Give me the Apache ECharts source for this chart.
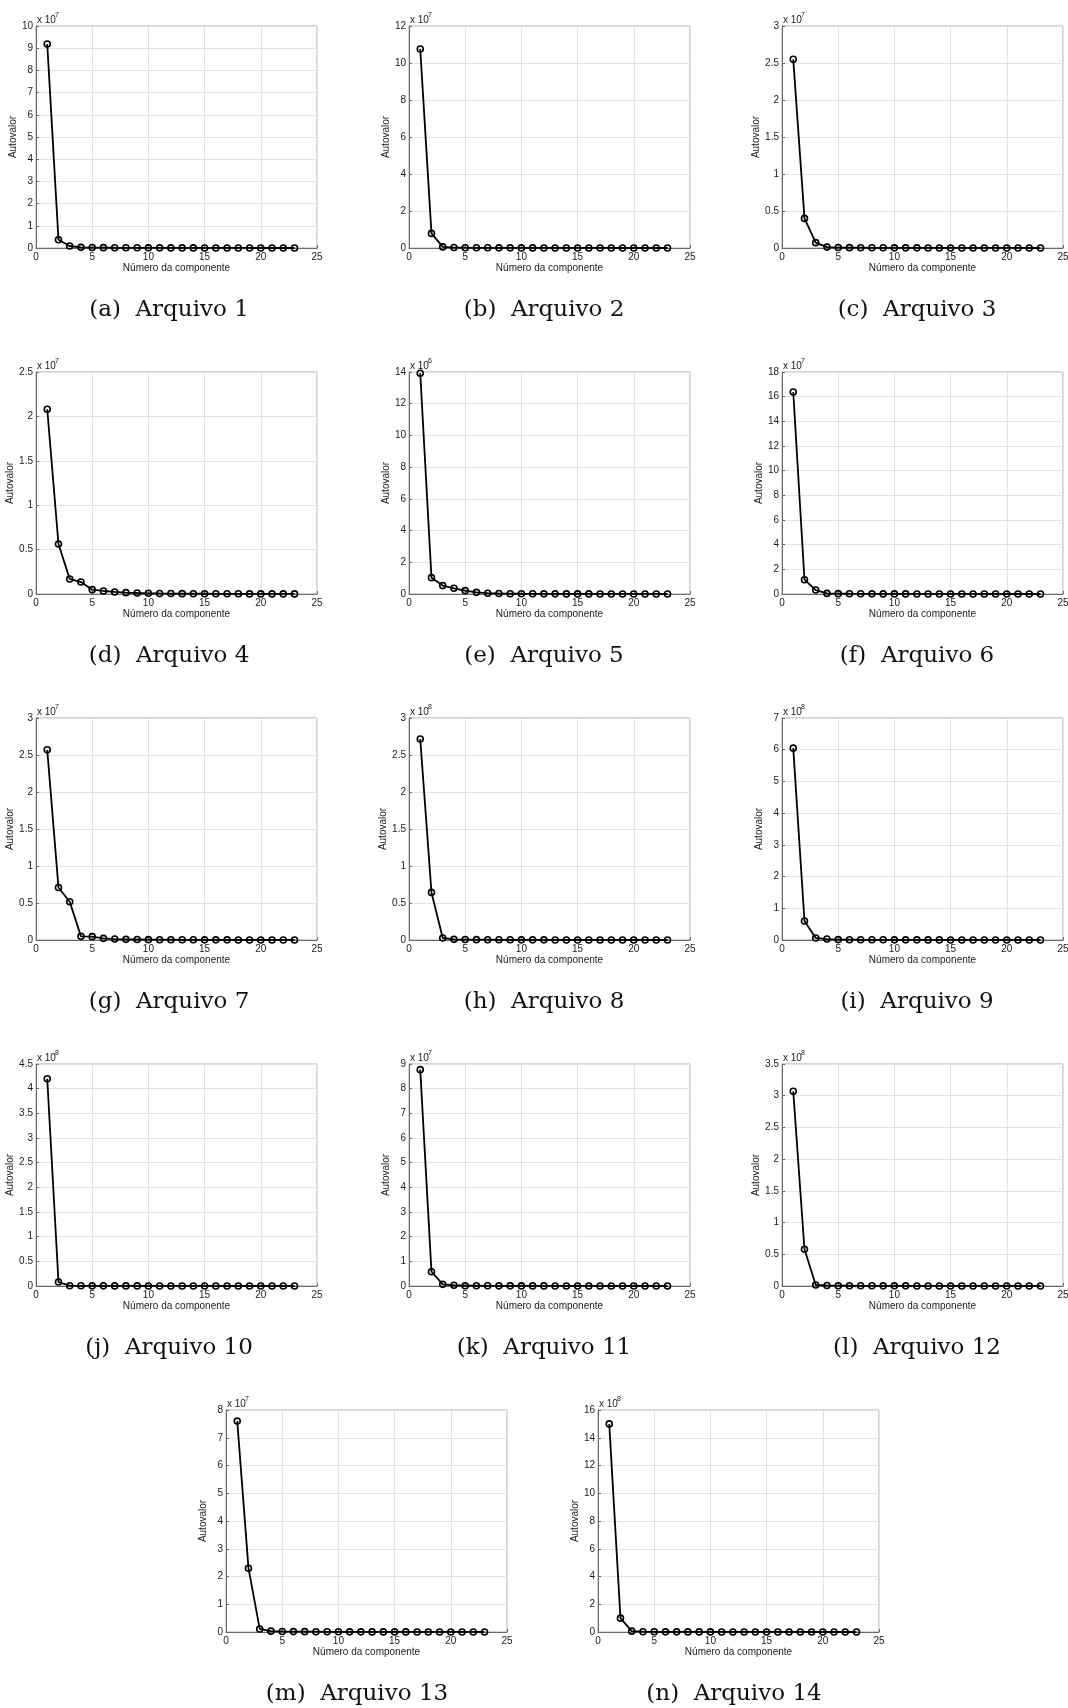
<!DOCTYPE html>
<html>
<head>
<meta charset="utf-8">
<script src="https://cdn.jsdelivr.net/npm/echarts@6/dist/echarts.min.js"></script>
<style>
html,body{margin:0;padding:0;background:#fff;}
#chart{width:1068px;height:1708px;}
</style>
</head>
<body>
<div id="chart"></div>
<script>
// Component numbers (x axis)
const componentes = [1,2,3,4,5,6,7,8,9,10,11,12,13,14,15,16,17,18,19,20,21,22,23];

const arquivo1  = [9.19,0.37,0.09,0.03,0.02,0.015,0.012,0.01,0.008,0.007,0.006,0.005,0.004,0.004,0.003,0.003,0.002,0.002,0.002,0.001,0.001,0.001,0.001];
const arquivo2  = [10.76,0.79,0.06,0.025,0.015,0.012,0.01,0.008,0.007,0.006,0.005,0.004,0.004,0.003,0.003,0.002,0.002,0.002,0.001,0.001,0.001,0.001,0.001];
const arquivo3  = [2.55,0.40,0.072,0.012,0.006,0.005,0.004,0.003,0.003,0.002,0.002,0.002,0.001,0.001,0.001,0.001,0.001,0.001,0.0005,0.0005,0.0005,0.0003,0.0002];
const arquivo4  = [2.08,0.563,0.169,0.135,0.049,0.034,0.023,0.015,0.011,0.008,0.006,0.005,0.004,0.003,0.003,0.002,0.002,0.002,0.001,0.001,0.001,0.001,0.001];
const arquivo5  = [13.92,1.03,0.53,0.36,0.21,0.105,0.05,0.03,0.02,0.015,0.012,0.01,0.008,0.007,0.006,0.005,0.004,0.004,0.003,0.003,0.002,0.002,0.001];
const arquivo6  = [16.38,1.16,0.32,0.05,0.03,0.02,0.015,0.012,0.01,0.008,0.007,0.006,0.005,0.004,0.004,0.003,0.003,0.002,0.002,0.002,0.001,0.001,0.001];
const arquivo7  = [2.57,0.71,0.517,0.049,0.045,0.022,0.013,0.009,0.007,0.005,0.004,0.004,0.003,0.003,0.002,0.002,0.002,0.001,0.001,0.001,0.001,0.001,0.0005];
const arquivo8  = [2.717,0.643,0.027,0.009,0.006,0.005,0.004,0.003,0.003,0.002,0.002,0.002,0.001,0.001,0.001,0.001,0.001,0.001,0.0005,0.0005,0.0005,0.0003,0.0002];
const arquivo9  = [6.05,0.60,0.063,0.03,0.012,0.01,0.008,0.007,0.006,0.005,0.004,0.004,0.003,0.003,0.002,0.002,0.002,0.001,0.001,0.001,0.001,0.001,0.001];
const arquivo10 = [4.2,0.08,0.006,0.004,0.003,0.003,0.002,0.002,0.002,0.001,0.001,0.001,0.001,0.001,0.001,0.0005,0.0005,0.0005,0.0005,0.0003,0.0003,0.0002,0.0002];
const arquivo11 = [8.77,0.58,0.067,0.03,0.012,0.01,0.008,0.007,0.006,0.005,0.004,0.004,0.003,0.003,0.002,0.002,0.002,0.001,0.001,0.001,0.001,0.001,0.001];
const arquivo12 = [3.07,0.58,0.016,0.008,0.005,0.004,0.003,0.003,0.002,0.002,0.002,0.001,0.001,0.001,0.001,0.001,0.001,0.0005,0.0005,0.0005,0.0003,0.0003,0.0002];
const arquivo13 = [7.6,2.3,0.11,0.03,0.02,0.015,0.012,0.01,0.008,0.007,0.006,0.005,0.004,0.004,0.003,0.003,0.002,0.002,0.002,0.001,0.001,0.001,0.001];
const arquivo14 = [15.0,1.0,0.06,0.02,0.015,0.012,0.01,0.008,0.007,0.006,0.005,0.004,0.004,0.003,0.003,0.002,0.002,0.002,0.001,0.001,0.001,0.001,0.001];

const series = [arquivo1,arquivo2,arquivo3,arquivo4,arquivo5,arquivo6,arquivo7,arquivo8,arquivo9,arquivo10,arquivo11,arquivo12,arquivo13,arquivo14];
const captions = ['(a)  Arquivo 1','(b)  Arquivo 2','(c)  Arquivo 3','(d)  Arquivo 4','(e)  Arquivo 5','(f)  Arquivo 6','(g)  Arquivo 7','(h)  Arquivo 8','(i)  Arquivo 9','(j)  Arquivo 10','(k)  Arquivo 11','(l)  Arquivo 12','(m)  Arquivo 13','(n)  Arquivo 14'];
const exponents = [7,7,7,7,6,7,7,8,8,8,7,8,7,8];
const yMax      = [10,12,3,2.5,14,18,3,3,7,4.5,9,3.5,8,16];
const yStep     = [1,2,0.5,0.5,2,2,0.5,0.5,1,0.5,1,0.5,1,2];
const xMax = 25, xStep = 5;
const xName = 'Número da componente';
const yName = 'Autovalor';

// ---- layout (pixels) ----
const colLeft = [36, 409, 782];
const rowTop = [26, 372, 718, 1064, 1410];
const lastRowLeft = [226, 598];
const W = 281, H = 222;
const capDy = 284;
const capX3 = [169, 544, 917];
const capXLast = [357, 734];

const grids = [], xAxes = [], yAxes = [], ser = [], graphics = [];
const tickFont = {fontFamily: 'Liberation Sans, Arial, sans-serif', fontSize: 10, color: '#1a1a1a'};

for (let i = 0; i < 14; i++) {
  let left, top, capX;
  if (i < 12) { const r = Math.floor(i / 3), c = i % 3; left = colLeft[c]; top = rowTop[r]; capX = capX3[c]; }
  else { left = lastRowLeft[i - 12]; top = rowTop[4]; capX = capXLast[i - 12]; }
  grids.push({left: left, top: top, width: W, height: H, containLabel: false, outerBoundsMode: 'none',
    show: true, borderColor: '#a8a8a8', borderWidth: 1, backgroundColor: '#fff'});
  xAxes.push({type: 'value', gridIndex: i, min: 0, max: xMax, interval: xStep,
    name: xName, nameLocation: 'middle', nameGap: 14,
    nameTextStyle: {fontFamily: tickFont.fontFamily, fontSize: 10, color: '#1a1a1a'},
    axisLine: {show: true, onZero: false, lineStyle: {color: '#6a6a6a', width: 1}},
    axisTick: {show: true, inside: true, length: 3, lineStyle: {color: '#6a6a6a'}},
    axisLabel: Object.assign({margin: 4}, tickFont),
    splitLine: {show: true, lineStyle: {color: '#e3e3e3', width: 1}}});
  yAxes.push({type: 'value', gridIndex: i, min: 0, max: yMax[i], interval: yStep[i],
    name: yName, nameLocation: 'middle', nameGap: 18, nameRotate: 90,
    nameTextStyle: {fontFamily: tickFont.fontFamily, fontSize: 10, color: '#1a1a1a'},
    axisLine: {show: true, lineStyle: {color: '#6a6a6a', width: 1}},
    axisTick: {show: true, inside: true, length: 3, lineStyle: {color: '#6a6a6a'}},
    axisLabel: Object.assign({margin: 3}, tickFont),
    splitLine: {show: true, lineStyle: {color: '#e3e3e3', width: 1}}});
  ser.push({type: 'line', xAxisIndex: i, yAxisIndex: i,
    data: componentes.map((x, k) => [x, series[i][k]]),
    symbol: 'circle', symbolSize: 6, showSymbol: true,
    lineStyle: {color: '#000', width: 1.8},
    itemStyle: {color: 'rgba(0,0,0,0)', borderColor: '#000', borderWidth: 1.6},
    animation: false, silent: true});
  // exponent "x 10^n"
  graphics.push({type: 'text', x: left + 1, y: top - 1,
    style: {text: 'x 10', fontFamily: tickFont.fontFamily, fontSize: 10, fill: '#1a1a1a', align: 'left', verticalAlign: 'bottom'}});
  graphics.push({type: 'text', x: left + 19, y: top - 14,
    style: {text: String(exponents[i]), fontFamily: tickFont.fontFamily, fontSize: 7, fill: '#1a1a1a', align: 'left', verticalAlign: 'top'}});
  // caption
  graphics.push({type: 'text', x: capX, y: top + capDy,
    style: {text: captions[i], fontFamily: 'DejaVu Serif, serif', fontSize: 23, fill: '#111', align: 'center', verticalAlign: 'middle'}});
}

const chart = echarts.init(document.getElementById('chart'), null, {renderer: 'canvas'});
chart.setOption({
  animation: false,
  backgroundColor: '#fff',
  grid: grids, xAxis: xAxes, yAxis: yAxes, series: ser, graphic: graphics
});
</script>
</body>
</html>
